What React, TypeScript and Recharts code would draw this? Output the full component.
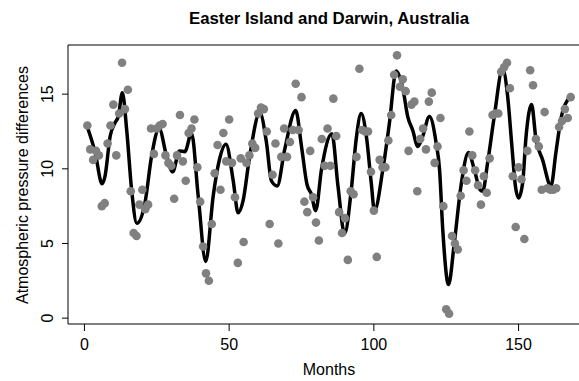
import React from 'react';
import {
  ComposedChart,
  Scatter,
  Line,
  XAxis,
  YAxis,
  ReferenceArea,
} from 'recharts';

// monthly pressure differences, Easter Island minus Darwin (months 1..168)
const pressure = [
  12.9, 11.3, 10.6, 11.2, 10.9, 7.5, 7.7, 11.7, 12.9, 14.3, 10.9, 13.7,
  17.1, 14.0, 15.3, 8.5, 5.7, 5.5, 7.6, 8.6, 7.3, 7.6, 12.7, 11.0,
  12.7, 12.9, 13.0, 10.9, 10.4, 10.2, 8.0, 10.9, 13.6, 10.5, 9.2, 12.4,
  12.7, 13.3, 10.1, 7.8, 4.8, 3.0, 2.5, 6.3, 9.7, 11.6, 8.6, 12.4,
  10.5, 13.3, 10.4, 8.1, 3.7, 10.7, 5.1, 10.4, 10.9, 11.7, 11.4, 13.7,
  14.1, 14.0, 12.5, 6.3, 9.6, 11.7, 5.0, 10.8, 12.7, 10.8, 11.8, 12.6,
  15.7, 12.6, 14.8, 7.8, 7.1, 11.2, 8.1, 6.4, 5.2, 12.0, 10.2, 12.7,
  10.2, 14.7, 12.2, 7.1, 5.7, 6.7, 3.9, 8.5, 8.3, 10.8, 16.7, 12.6,
  12.5, 12.5, 9.8, 7.2, 4.1, 10.6, 10.1, 10.1, 11.9, 13.6, 16.3, 17.6,
  15.5, 16.0, 15.2, 11.2, 14.3, 14.5, 8.5, 12.0, 12.7, 11.3, 14.5, 15.1,
  10.4, 11.5, 13.4, 7.5, 0.6, 0.3, 5.5, 5.0, 4.6, 8.2, 9.9, 9.2,
  12.5, 10.9, 9.9, 8.9, 7.6, 9.5, 8.4, 10.7, 13.6, 13.7, 13.7, 16.5,
  16.8, 17.1, 15.4, 9.5, 6.1, 10.1, 9.3, 5.3, 11.2, 16.6, 15.6, 12.0,
  11.5, 8.6, 13.8, 8.7, 8.6, 8.6, 8.7, 12.8, 13.2, 14.0, 13.4, 14.8,
];

// fitted curve
const smoothMonths = [
  1, 3.7, 6.1, 7.1, 8.9, 10.6, 11.7, 13.1, 14.6, 16.3, 18.1, 20.9, 23.2,
  25.8, 28.4, 30.5, 32.8, 34.7, 37.0, 39.3, 41.9, 44.5, 46.5, 48.9, 51.4,
  53.1, 54.8, 57.1, 60.6, 62.9, 64.6, 66.6, 69.2, 73.0, 75.0, 76.9, 78.4,
  79.9, 81.9, 85.5, 87.6, 89.9, 92.2, 93.9, 95.6, 97.4, 99.1, 100.2, 103.1,
  105.4, 107.7, 110, 111.7, 113.4, 115.2, 116.9, 119.2, 121.5, 122.7, 123.8,
  125.8, 127.8, 130.1, 132.7, 134.7, 136.7, 137.6, 139.3, 141.6, 144.5,
  146.2, 147.7, 148.9, 150, 151.4, 152.6, 154.5, 156, 158.3, 161.2, 162.9,
  164.6, 167.5, 168,
];
const smoothValues = [
  12.8, 11.1, 9.0, 9.5, 12.2, 13.1, 13.5, 15.1, 12.6, 8.6, 6.35, 7.7, 10.85,
  12.7, 10.85, 9.8, 11.2, 11.15, 12.4, 8.2, 3.8, 8.2, 10.5, 11.65, 9.2,
  7.05, 7.85, 10.85, 13.75, 11.75, 9.2, 8.85, 11.3, 13.9, 11.5, 8.95, 8.3,
  7.2, 9.95, 12.35, 8.85, 5.65, 8.6, 12.0, 13.7, 12.2, 9.05, 7.2, 9.95,
  13.1, 16.55, 15.4, 13.5, 12.6, 11.5, 12.2, 13.5, 11.75, 9.95, 5.95,
  2.25, 5.05, 8.85, 11.1, 9.95, 8.6, 8.5, 10.4, 13.5, 16.7,
  14.9, 11.5, 8.85, 8.05, 9.05, 12.2, 14.3, 12.0, 10.6, 8.85, 11.1,
  13.3, 14.75, 14.85,
];

const xTicks = [0, 50, 100, 150];
const yTicks = [0, 5, 10, 15];

const points = pressure.map((y, i) => ({ x: i + 1, y }));
const curve = smoothMonths.map((x, i) => ({ x, y: smoothValues[i] }));

const font = '"Liberation Sans", Arial, Helvetica, sans-serif';

const YTick = (props: any) => {
  const { x, y, payload } = props;
  const bx = x - 7;
  return (
    <text
      x={bx}
      y={y}
      transform={`rotate(-90, ${bx}, ${y})`}
      textAnchor="middle"
      fontSize={16}
      fontFamily={font}
      fill="#000"
    >
      {payload.value}
    </text>
  );
};

const Dot = (props: any) => (
  <circle cx={props.cx} cy={props.cy} r={4.3} fill="#808080" />
);

export default function App() {
  return (
    <div style={{ position: 'absolute', left: 0, top: 0, width: 579, height: 381, overflow: 'hidden', background: '#fff' }}>
      <ComposedChart
        width={600}
        height={381}
        margin={{ top: 45, right: 10, bottom: 0, left: 0 }}
      >
        <XAxis
          type="number"
          dataKey="x"
          domain={[-5.68, 174.68]}
          ticks={xTicks}
          allowDataOverflow
          height={57}
          tickSize={7}
          tickMargin={8}
          axisLine={false}
          tickLine={{ stroke: '#000' }}
          tick={{ fill: '#000', fontSize: 16, fontFamily: font }}
        />
        <YAxis
          type="number"
          dataKey="y"
          domain={[-0.392, 18.292]}
          ticks={yTicks}
          allowDataOverflow
          width={68}
          tickSize={6}
          axisLine={false}
          tickLine={{ stroke: '#000' }}
          tick={<YTick />}
        />
        <ReferenceArea
          x1={-5.68}
          x2={174.68}
          y1={-0.392}
          y2={18.292}
          fill="none"
          fillOpacity={0}
          stroke="#000"
          strokeWidth={1}
        />
        <Scatter data={points} dataKey="y" shape={<Dot />} isAnimationActive={false} />
        <Line
          data={curve}
          dataKey="y"
          type="monotone"
          stroke="#000"
          strokeWidth={3.5}
          dot={false}
          activeDot={false}
          isAnimationActive={false}
        />
      </ComposedChart>
      <svg
        width={579}
        height={381}
        style={{ position: 'absolute', left: 0, top: 0, pointerEvents: 'none' }}
      >
        <text x={329} y={24} textAnchor="middle" fontSize={16.8} fontWeight="bold" fontFamily={font}>
          Easter Island and Darwin, Australia
        </text>
        <text x={329} y={375} textAnchor="middle" fontSize={16} fontFamily={font}>
          Months
        </text>
        <text
          x={28}
          y={185}
          transform="rotate(-90, 28, 185)"
          textAnchor="middle"
          fontSize={16}
          fontFamily={font}
        >
          Atmospheric pressure differences
        </text>
      </svg>
    </div>
  );
}
